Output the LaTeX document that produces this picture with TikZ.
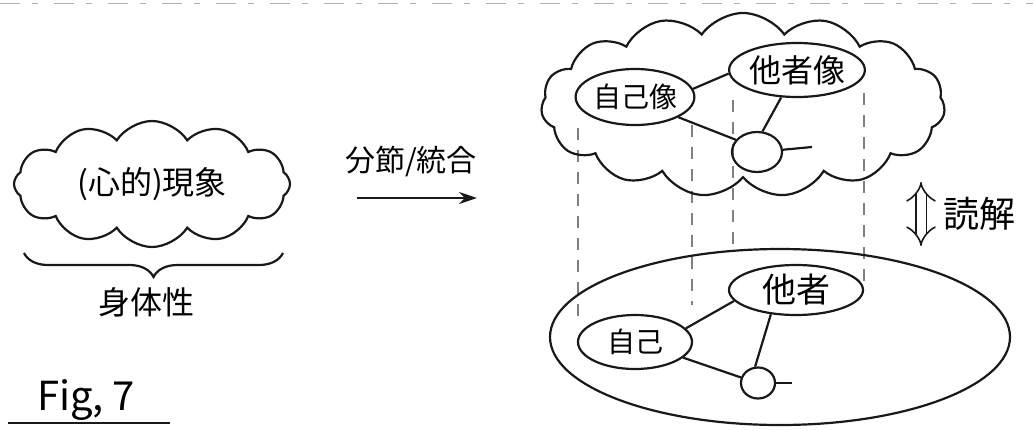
\documentclass[tikz,border=0pt]{standalone}
\usepackage{fontspec}
\newfontfamily\jp{Noto Sans CJK JP}
\usetikzlibrary{shapes.geometric,shapes.symbols,arrows.meta,decorations.pathreplacing}
\begin{document}
\begin{tikzpicture}[x=0.5pt,y=-0.5pt,
  ink/.style={draw=black!90, line width=1.1pt},
  bubble/.style={ellipse, draw=black!90, line width=1.1pt, inner sep=0pt},
  puffy/.style={cloud, draw=black!90, line width=1.1pt, inner sep=0pt, cloud ignores aspect},
  guide/.style={draw=black!50, line width=0.7pt, dash pattern=on 6pt off 5pt},
  lbl/.style={font=\jp\fontsize{#1}{#1}\selectfont, inner sep=0pt}
]
\useasboundingbox (0,0) rectangle (1033,429);
% scan artifact at top
\coordinate (t1) at (0,3); \coordinate (t2) at (1033,3);
\draw[draw=black!30, line width=0.5pt, dash pattern=on 10pt off 6pt on 3pt off 8pt] (t1) -- (t2);

% left part
\node[puffy, cloud puffs=12, cloud puff arc=115, minimum width=138pt, minimum height=63pt,
      lbl=16] (c0) at (152,184) {(心的)現象};
\coordinate (b1) at (283,253); \coordinate (b2) at (24,253);
\draw[ink, decorate, decoration={brace, amplitude=12pt}] (b1) -- (b2);
\node[lbl=16] (body) at (146,302) {身体性};

\node[lbl=20] (fig) at (86,400) {Fig, 7};
\coordinate (u1) at (8,423); \coordinate (u2) at (170,423);
\draw[ink, line width=1.4pt] (u1) -- (u2);

% middle arrow
\node[lbl=15] (seg) at (411,162) {分節/統合};
\coordinate (a1) at (357,198); \coordinate (a2) at (477,198);
\draw[ink, line width=1.3pt, -{Stealth[length=9pt,width=6pt]}] (a1) -- (a2);

% guides
\coordinate (g1a) at (578,128); \coordinate (g1b) at (578,316);
\coordinate (g2a) at (692,125); \coordinate (g2b) at (692,305);
\coordinate (g3a) at (733,100); \coordinate (g3b) at (733,252);
\coordinate (g4a) at (864,93);  \coordinate (g4b) at (864,290);
\draw[guide] (g1a) -- (g1b);
\draw[guide] (g2a) -- (g2b);
\draw[guide] (g3a) -- (g3b);
\draw[guide] (g4a) -- (g4b);

% upper cloud
\node[puffy, cloud puffs=15, cloud puff arc=110, minimum width=202pt, minimum height=92pt] (c1) at (743,105) {};
\node[bubble, minimum width=57pt, minimum height=28pt, lbl=14] (jz) at (635,97) {自己像};
\node[bubble, minimum width=65pt, minimum height=27pt, lbl=16] (tz) at (797,70) {他者像};
\node[bubble, minimum width=25pt, minimum height=20pt] (cu) at (757,152) {};
\coordinate (eu) at (812,147);
\draw[ink] (jz.8) -- (tz.183);
\draw[ink] (jz.-25) -- (cu.150);
\draw[ink] (tz.-120) -- (cu.75);
\draw[ink] (cu.5) -- (eu);

% interpretation arrow
\coordinate (d1) at (921,182); \coordinate (d2) at (921,246);
\draw[draw=black!90, double, double distance=4.5pt, line width=0.8pt, {Implies}-{Implies}] (d2) -- (d1);
\node[lbl=18] (read) at (979,214) {読解};

% lower ellipse
\node[bubble, minimum width=230pt, minimum height=88pt] (gr) at (780,337) {};
\node[bubble, minimum width=57pt, minimum height=27pt, lbl=14] (jk) at (635,342) {自己};
\node[bubble, minimum width=67pt, minimum height=25pt, lbl=17] (tk) at (796,290) {他者};
\node[bubble, minimum width=17pt, minimum height=15.5pt] (cl) at (758,383) {};
\coordinate (el) at (792,383);
\draw[ink] (jk.15) -- (tk.190);
\draw[ink] (jk.-18) -- (cl.162);
\draw[ink] (tk.-136) -- (cl.100);
\draw[ink] (cl.0) -- (el);
\end{tikzpicture}
\end{document}
